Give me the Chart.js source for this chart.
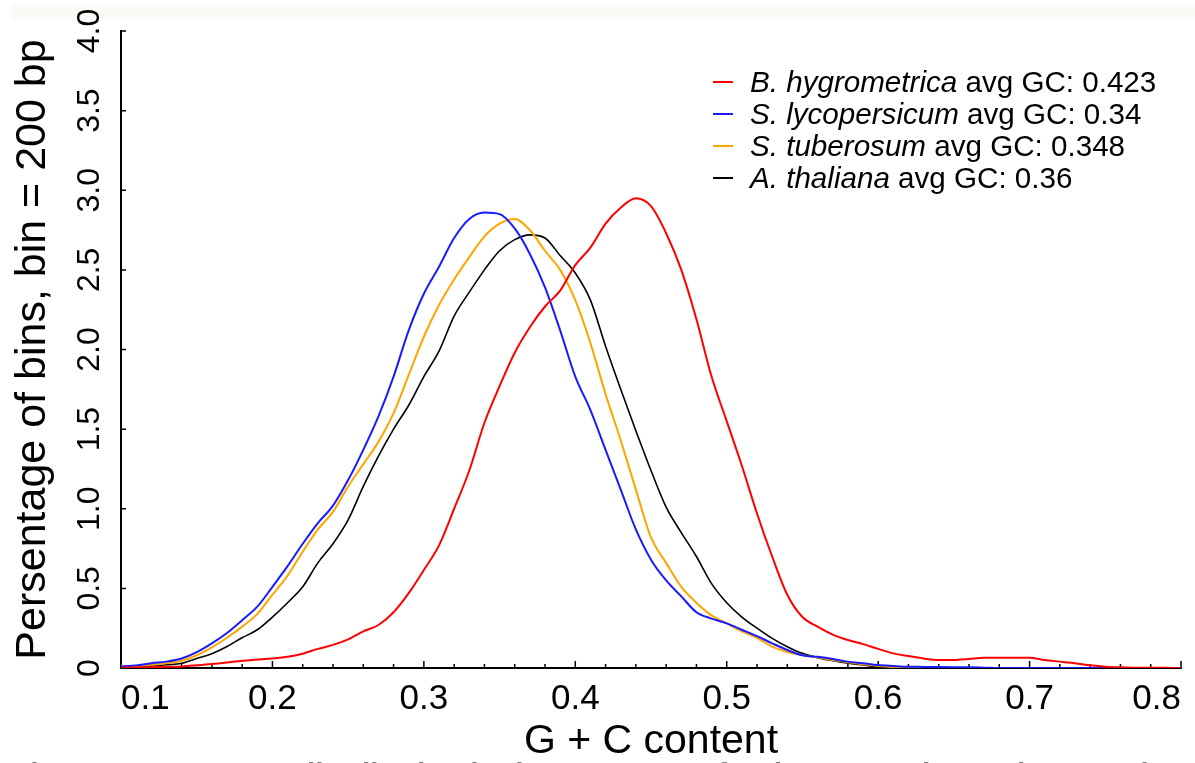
<!DOCTYPE html>
<html>
<head>
<meta charset="utf-8">
<title>GC content distribution</title>
<script src="https://cdn.jsdelivr.net/npm/chart.js@4.4.0/dist/chart.umd.min.js"></script>
<style>
    html, body { margin: 0; padding: 0; background: #fff; overflow: hidden; }
    #wrap { position: relative; width: 1195px; height: 763px; overflow: hidden; }
    #band { position: absolute; left: 12px; top: 5px; width: 1183px; height: 14px; background: #fbfaf6; }
    #gcChart { position: absolute; left: 0; top: 0; }
    #legend { position: absolute; left: 713px; top: 66px; font-family: "Liberation Sans", Arial, sans-serif; font-size: 29.6px; color: #000; }
    #legend .row { display: flex; align-items: center; height: 32px; line-height: 32px; white-space: nowrap; }
    #legend .swatch { display: inline-block; width: 20px; height: 2px; margin-right: 17px; }
    #caption { position: absolute; left: 12px; top: 757px; font-family: "Liberation Sans", Arial, sans-serif; font-weight: bold; font-size: 30px; color: #7a7a7a; white-space: nowrap; }
</style>
</head>
<body>
<div id="wrap">
    <div id="band"></div>
    <canvas id="gcChart" width="1195" height="763"></canvas>
    <div id="legend"></div>
    <div id="caption">Fig. S1. GC content distribution in the genomes of B. hygrometrica, S. lycopersicum, S. tuberosum and A. thaliana</div>
</div>
<script>
// G + C content bins (x axis)
const gcContent = [
    0.10, 0.11, 0.12, 0.13, 0.14, 0.15, 0.16, 0.17, 0.18, 0.19,
    0.20, 0.21, 0.22, 0.23, 0.24, 0.25, 0.26, 0.27, 0.28, 0.29,
    0.30, 0.31, 0.32, 0.33, 0.34, 0.35, 0.36, 0.37, 0.38, 0.39,
    0.40, 0.41, 0.42, 0.43, 0.44, 0.45, 0.46, 0.47, 0.48, 0.49,
    0.50, 0.51, 0.52, 0.53, 0.54, 0.55, 0.56, 0.57, 0.58, 0.59,
    0.60, 0.61, 0.62, 0.63, 0.64, 0.65, 0.66, 0.67, 0.68, 0.69,
    0.70, 0.71, 0.72, 0.73, 0.74, 0.75, 0.76, 0.77, 0.78, 0.79, 0.80
];

// percentage of bins per species
const hygrometrica = [
    0.000, 0.003, 0.005, 0.008, 0.010, 0.017, 0.025, 0.035, 0.046, 0.053,
    0.060, 0.070, 0.090, 0.120, 0.145, 0.180, 0.230, 0.270, 0.350, 0.470,
    0.615, 0.770, 1.000, 1.240, 1.540, 1.770, 1.980, 2.140, 2.270, 2.370,
    2.530, 2.640, 2.790, 2.890, 2.950, 2.900, 2.730, 2.500, 2.190, 1.830,
    1.550, 1.270, 0.970, 0.700, 0.460, 0.320, 0.260, 0.210, 0.176, 0.150,
    0.120, 0.092, 0.075, 0.060, 0.050, 0.050, 0.057, 0.065, 0.065, 0.065,
    0.065, 0.050, 0.040, 0.030, 0.017, 0.008, 0.004, 0.002, 0.002, 0.001, 0.000
];
const lycopersicum = [
    0.010, 0.015, 0.030, 0.040, 0.060, 0.100, 0.155, 0.220, 0.300, 0.385,
    0.510, 0.640, 0.780, 0.910, 1.020, 1.180, 1.370, 1.580, 1.830, 2.120,
    2.350, 2.520, 2.700, 2.820, 2.860, 2.850, 2.760, 2.600, 2.390, 2.120,
    1.830, 1.620, 1.370, 1.120, 0.870, 0.680, 0.550, 0.450, 0.350, 0.310,
    0.280, 0.240, 0.200, 0.155, 0.113, 0.080, 0.070, 0.057, 0.040, 0.030,
    0.019, 0.013, 0.008, 0.007, 0.006, 0.005, 0.004, 0.002, 0.000, 0.000,
    0.000, 0.000, 0.000, 0.000, 0.000, 0.000, 0.000, 0.000, 0.000, 0.000, 0.000
];
const tuberosum = [
    0.010, 0.012, 0.020, 0.030, 0.045, 0.080, 0.130, 0.190, 0.260, 0.340,
    0.460, 0.580, 0.730, 0.870, 0.980, 1.140, 1.280, 1.420, 1.600, 1.840,
    2.080, 2.280, 2.440, 2.580, 2.710, 2.790, 2.820, 2.750, 2.620, 2.500,
    2.310, 2.040, 1.720, 1.430, 1.120, 0.820, 0.660, 0.510, 0.410, 0.330,
    0.280, 0.230, 0.190, 0.134, 0.100, 0.080, 0.067, 0.050, 0.036, 0.023,
    0.013, 0.006, 0.002, 0.000, 0.000, 0.000, 0.000, 0.000, 0.000, 0.000,
    0.000, 0.000, 0.000, 0.000, 0.000, 0.000, 0.000, 0.000, 0.000, 0.000, 0.000
];
const thaliana = [
    0.005, 0.008, 0.012, 0.020, 0.030, 0.060, 0.090, 0.135, 0.190, 0.240,
    0.320, 0.410, 0.510, 0.660, 0.780, 0.930, 1.140, 1.330, 1.500, 1.650,
    1.830, 1.990, 2.210, 2.360, 2.500, 2.620, 2.690, 2.720, 2.700, 2.590,
    2.480, 2.310, 2.020, 1.750, 1.490, 1.240, 1.010, 0.850, 0.700, 0.530,
    0.410, 0.320, 0.250, 0.186, 0.134, 0.092, 0.065, 0.046, 0.030, 0.019,
    0.008, 0.004, 0.002, 0.000, 0.000, 0.000, 0.000, 0.000, 0.000, 0.000,
    0.000, 0.000, 0.000, 0.000, 0.000, 0.000, 0.000, 0.000, 0.000, 0.000, 0.000
];

const species = ['B. hygrometrica', 'S. lycopersicum', 'S. tuberosum', 'A. thaliana'];
const avgGC = ['0.423', '0.34', '0.348', '0.36'];
const seriesValues = [hygrometrica, lycopersicum, tuberosum, thaliana];
const lineColors = ['#ff0000', '#1a1aff', '#ffa500', '#000000'];
const lineWidths = [2, 2, 2, 1.6];

const yTickLabels = ['0', '0.5', '1.0', '1.5', '2.0', '2.5', '3.0', '3.5', '4.0'];

const fontFamily = '"Liberation Sans", Arial, sans-serif';

function isMajor(v) {
    return Math.abs(v * 10 - Math.round(v * 10)) < 1e-6;
}

// small tick marks pointing into the plot, like the original figure
const inwardTicks = {
    id: 'inwardTicks',
    beforeDatasetsDraw(chart) {
        const {ctx, chartArea, scales: {x, y}} = chart;
        ctx.save();
        ctx.strokeStyle = '#000';
        ctx.lineWidth = 1.5;
        ctx.beginPath();
        x.ticks.forEach(t => {
            const px = x.getPixelForValue(t.value);
            const len = isMajor(t.value) ? 7 : 4;
            ctx.moveTo(px, chartArea.bottom);
            ctx.lineTo(px, chartArea.bottom - len);
        });
        y.ticks.forEach(t => {
            const py = y.getPixelForValue(t.value);
            ctx.moveTo(chartArea.left, py);
            ctx.lineTo(chartArea.left + 5, py);
        });
        ctx.stroke();
        ctx.restore();
    }
};

const chart = new Chart(document.getElementById('gcChart'), {
    type: 'line',
    data: {
        datasets: species.map((name, i) => ({
            label: name + ' avg GC: ' + avgGC[i],
            data: gcContent.map((g, j) => ({x: g, y: seriesValues[i][j]})),
            borderColor: lineColors[i],
            borderWidth: lineWidths[i],
            pointRadius: 0,
            fill: false,
            cubicInterpolationMode: 'monotone'
        }))
    },
    options: {
        responsive: false,
        animation: false,
        devicePixelRatio: 1,
        layout: {
            padding: {top: 31, right: 14, left: 0, bottom: 0}
        },
        plugins: {
            legend: {display: false},
            tooltip: {enabled: false}
        },
        scales: {
            x: {
                type: 'linear',
                min: 0.1,
                max: 0.8,
                afterFit: s => { s.height = 95; },
                border: {color: '#000', width: 2},
                grid: {drawOnChartArea: false, drawTicks: false},
                ticks: {
                    stepSize: 0.02,
                    autoSkip: false,
                    minRotation: 0,
                    maxRotation: 0,
                    align: 'inner',
                    padding: 10,
                    color: '#000',
                    font: {family: fontFamily, size: 35},
                    callback: v => isMajor(v) ? v.toFixed(1) : ''
                },
                title: {
                    display: true,
                    text: 'G + C content',
                    color: '#000',
                    padding: {top: 0, bottom: -3},
                    font: {family: fontFamily, size: 41}
                }
            },
            y: {
                min: 0,
                max: 4,
                afterFit: s => { s.width = 121; },
                border: {color: '#000', width: 2},
                grid: {drawOnChartArea: false, drawTicks: false},
                ticks: {
                    stepSize: 0.5,
                    autoSkip: false,
                    minRotation: 90,
                    maxRotation: 90,
                    crossAlign: 'center',
                    padding: 9,
                    color: '#000',
                    font: {family: fontFamily, size: 32},
                    callback: (v, i) => yTickLabels[i]
                },
                title: {
                    display: true,
                    text: 'Persentage of bins, bin = 200 bp',
                    color: '#000',
                    padding: {top: 7, bottom: 0},
                    font: {family: fontFamily, size: 43}
                }
            }
        }
    },
    plugins: [inwardTicks]
});

// legend with italic species names, built from the chart's datasets
const legendBox = document.getElementById('legend');
chart.data.datasets.forEach((ds, i) => {
    const row = document.createElement('div');
    row.className = 'row';
    const sw = document.createElement('span');
    sw.className = 'swatch';
    sw.style.background = ds.borderColor;
    row.appendChild(sw);
    const name = document.createElement('i');
    name.textContent = species[i];
    row.appendChild(name);
    row.appendChild(document.createTextNode('\u00a0avg GC: ' + avgGC[i]));
    legendBox.appendChild(row);
});
</script>
</body>
</html>
